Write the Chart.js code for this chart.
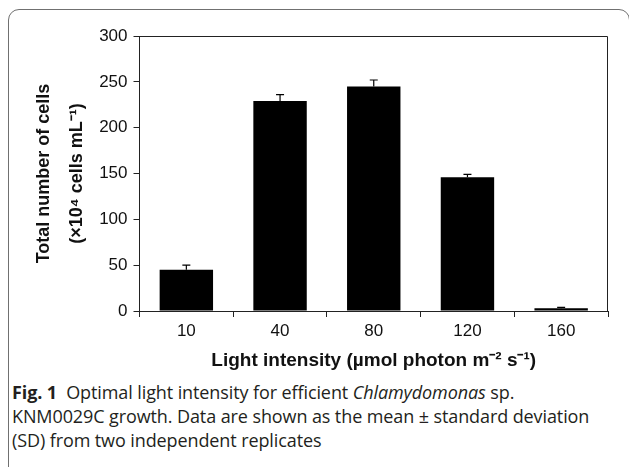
<!DOCTYPE html>
<html>
<head>
<meta charset="utf-8">
<script src="https://cdn.jsdelivr.net/npm/chart.js@4.4.1/dist/chart.umd.min.js"></script>
<style>
  body { margin: 0; background: #fff; width: 629px; height: 467px; overflow: hidden; position: relative; }
  #frame { position: absolute; left: 8px; top: 9px; width: 622px; height: 520px; border: 1.5px solid #707070; border-radius: 11px; box-sizing: border-box; }
  #wrap { position: absolute; left: 0; top: 0; width: 629px; height: 380px; }
  #caption { position: absolute; left: 12px; top: 380px; font-family: "Open Sans", sans-serif; font-size: 18px; line-height: 24px; color: #231f20; white-space: nowrap; letter-spacing: -0.1px; }
  #caption b { font-weight: 700; }
</style>
</head>
<body>
<div id="frame"></div>
<div id="wrap"><canvas id="chart" width="629" height="380"></canvas></div>
<div id="caption"><b>Fig. 1</b>&nbsp; Optimal light intensity for efficient <i>Chlamydomonas</i> sp.<br>KNM0029C growth. Data are shown as the mean ± standard deviation<br>(SD) from two independent replicates</div>
<script>
// Data
let intensities = ["10", "40", "80", "120", "160"];
let cellCounts = [45, 229, 245, 146, 3];
let cellSD = [5, 7, 7, 3, 1];

// error bars (upper only) + box around plot area
const errorBars = {
  id: "errorBars",
  afterDatasetsDraw(chart) {
    let ctx = chart.ctx;
    let meta = chart.getDatasetMeta(0);
    let y = chart.scales.y;
    ctx.save();
    ctx.strokeStyle = "#000";
    ctx.lineWidth = 1.2;
    meta.data.forEach((bar, i) => {
      let top = y.getPixelForValue(cellCounts[i] + cellSD[i]);
      ctx.beginPath();
      ctx.moveTo(bar.x, bar.y);
      ctx.lineTo(bar.x, top);
      ctx.moveTo(bar.x - 4, top);
      ctx.lineTo(bar.x + 4, top);
      ctx.stroke();
    });
    let a = chart.chartArea;
    ctx.strokeStyle = "#222";
    ctx.lineWidth = 1;
    ctx.beginPath();
    ctx.moveTo(a.left, a.top + 0.5);
    ctx.lineTo(a.right - 0.5, a.top + 0.5);
    ctx.lineTo(a.right - 0.5, a.bottom);
    ctx.stroke();
    ctx.restore();
  }
};

let ctx = document.getElementById("chart").getContext("2d");
new Chart(ctx, {
  type: "bar",
  data: {
    labels: intensities,
    datasets: [{
      data: cellCounts,
      backgroundColor: "#000",
      borderColor: "#000",
      borderWidth: 0,
      categoryPercentage: 1,
      barPercentage: 0.57
    }]
  },
  options: {
    responsive: false,
    animation: false,
    layout: { padding: { left: 0, top: 36, right: 21, bottom: 0 } },
    plugins: { legend: { display: false }, tooltip: { enabled: false } },
    scales: {
      x: {
        grid: { display: true, drawOnChartArea: false, offset: true, tickLength: 6, color: "#222", tickColor: "#222" },
        border: { color: "#222", width: 1 },
        ticks: { color: "#111", font: { family: "'Liberation Sans', Arial", size: 17 }, padding: 4 },
        title: {
          display: true,
          text: "Light intensity (µmol photon m⁻² s⁻¹)",
          color: "#111",
          font: { family: "'Liberation Sans', Arial", size: 19, weight: "bold", lineHeight: 1.2 },
          padding: { top: 0, bottom: 8 }
        },
        afterFit(scale) { scale.height = 69; }
      },
      y: {
        min: 0,
        max: 300,
        grid: { display: true, drawOnChartArea: false, tickLength: 6, color: "#222", tickColor: "#222" },
        border: { color: "#222", width: 1 },
        ticks: { stepSize: 50, color: "#111", font: { family: "'Liberation Sans', Arial", size: 17 }, padding: 6 },
        title: {
          display: true,
          text: ["Total number of cells", "(×10⁴ cells mL⁻¹)"],
          color: "#111",
          font: { family: "'Liberation Sans', Arial", size: 18, weight: "bold", lineHeight: 1.83 },
          padding: { top: 28, bottom: 0 }
        },
        afterFit(scale) { scale.width = 139.5; }
      }
    }
  },
  plugins: [errorBars]
});
</script>
</body>
</html>
